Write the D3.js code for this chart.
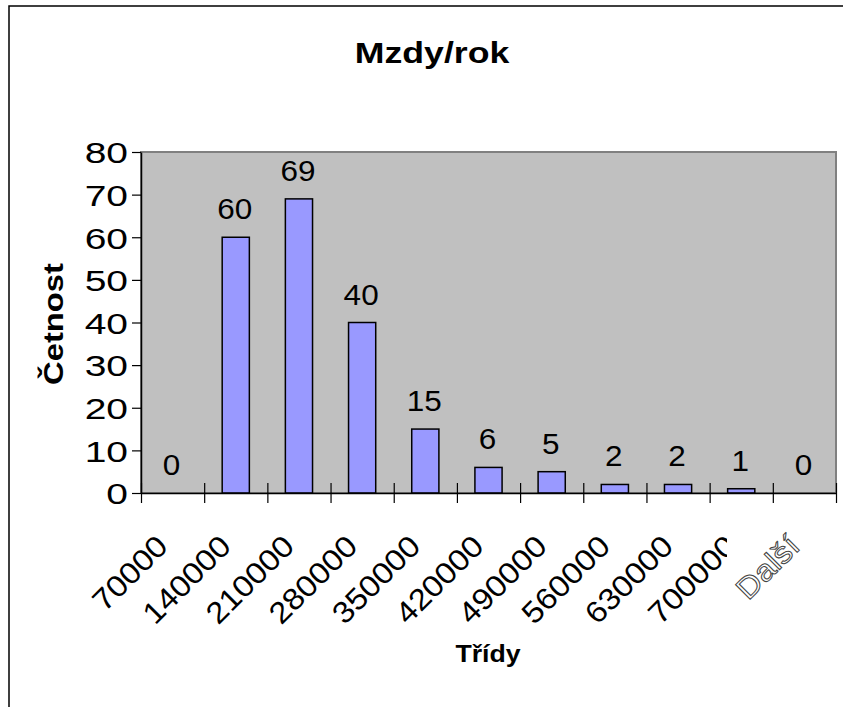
<!DOCTYPE html>
<html>
<head>
<meta charset="utf-8">
<script src="https://cdn.jsdelivr.net/npm/d3@7"></script>
<style>
  body { margin: 0; background: #fff; }
  text { font-family: "Liberation Sans", Arial, sans-serif; }
</style>
</head>
<body>
<div id="chart"></div>
<script>
// data
var categories = ["70000", "140000", "210000", "280000", "350000", "420000", "490000", "560000", "630000", "700000", "Další"];
var counts = [0, 60, 69, 40, 15, 6, 5, 2, 2, 1, 0];
var yTicks = [0, 10, 20, 30, 40, 50, 60, 70, 80];

var width = 843, height = 707;
var plot = {left: 141, right: 836, top: 152, bottom: 493};

var svg = d3.select("#chart").append("svg")
    .attr("width", width)
    .attr("height", height);

// outer chart frame (runs off the right and bottom edge)
svg.append("rect")
    .attr("x", 9).attr("y", 6)
    .attr("width", 900).attr("height", 800)
    .attr("fill", "none")
    .attr("stroke", "#000")
    .attr("stroke-width", 1.5);

var x = d3.scaleBand()
    .domain(categories)
    .range([plot.left, plot.right]);

var xb = d3.scaleLinear()
    .domain([0, categories.length])
    .range([plot.left, plot.right]);

var y = d3.scaleLinear()
    .domain([0, 80])
    .range([plot.bottom, plot.top]);

// plot area
svg.append("rect")
    .attr("x", plot.left).attr("y", plot.top)
    .attr("width", plot.right - plot.left)
    .attr("height", plot.bottom - plot.top)
    .attr("fill", "#c0c0c0")
    .attr("stroke", "#808080")
    .attr("stroke-width", 2);

// bars
var barW = x.bandwidth() * 0.43;
svg.append("g")
    .selectAll("rect")
    .data(counts)
    .join("rect")
        .attr("x", (d, i) => x(categories[i]) + (x.bandwidth() - barW) / 2)
        .attr("y", d => y(d))
        .attr("width", barW)
        .attr("height", d => y(0) - y(d))
        .attr("fill", "#9999ff")
        .attr("stroke", "#000")
        .attr("stroke-width", 1.5);

// data labels
svg.append("g")
    .selectAll("text")
    .data(counts)
    .join("text")
        .attr("transform", (d, i) => `translate(${x(categories[i]) + x.bandwidth() / 2 - 1},${y(d) - 18}) scale(1.05,1)`)
        .attr("text-anchor", "middle")
        .style("font-size", "30px")
        .text(d => d);

// y axis
var yAxis = svg.append("g")
    .attr("transform", `translate(${plot.left},0)`)
    .call(d3.axisLeft(y).tickValues(yTicks).tickSize(9).tickSizeOuter(0));
yAxis.select(".domain").attr("stroke", "#000").attr("stroke-width", 1.5);
yAxis.selectAll("line").attr("stroke-width", 1.2);
yAxis.selectAll("text")
    .attr("x", null).attr("dy", null)
    .attr("transform", "translate(-13,10.8) scale(1.3,1)")
    .attr("fill", "#000")
    .style("font-size", "30px")
    .style("font-family", "'Liberation Sans', Arial, sans-serif");

// x axis: ticks on the category boundaries, crossing the axis
var xAxis = svg.append("g")
    .attr("transform", `translate(0,${plot.bottom})`)
    .call(d3.axisBottom(xb).tickValues(d3.range(categories.length + 1)).tickSize(10).tickSizeOuter(0).tickFormat(""));
xAxis.select(".domain").attr("stroke", "#000").attr("stroke-width", 1.5);
xAxis.selectAll("line").attr("y1", -10).attr("stroke-width", 1.2);

// rotated category labels
svg.append("clipPath").attr("id", "cut")
    .append("rect").attr("x", 0).attr("y", 0).attr("width", 727).attr("height", height);

var xl = svg.append("g");
xl.selectAll("g")
    .data(categories)
    .join("g")
        .attr("clip-path", d => d === "700000" ? "url(#cut)" : null)
    .append("text")
        .attr("transform", d => `translate(${x(d) + x.bandwidth() / 2 - 3},${plot.bottom + 55}) rotate(-45) scale(1.1,1)`)
        .attr("text-anchor", "end")
        .style("font-size", "30px")
        .attr("fill", d => d === "Další" ? "#fff" : "#000")
        .attr("stroke", d => d === "Další" ? "#444" : null)
        .attr("stroke-width", 1)
        .text(d => d);

// titles
svg.append("text")
    .attr("transform", "translate(432,63) scale(1.23,1)")
    .attr("text-anchor", "middle")
    .style("font-size", "29px")
    .style("font-weight", "bold")
    .text("Mzdy/rok");

svg.append("text")
    .attr("transform", "translate(63,324) rotate(-90) scale(1.17,1)")
    .attr("text-anchor", "middle")
    .style("font-size", "28px")
    .style("font-weight", "bold")
    .text("Četnost");

svg.append("text")
    .attr("transform", "translate(488,662) scale(1.16,1)")
    .attr("text-anchor", "middle")
    .style("font-size", "23px")
    .style("font-weight", "bold")
    .text("Třídy");
</script>
</body>
</html>
